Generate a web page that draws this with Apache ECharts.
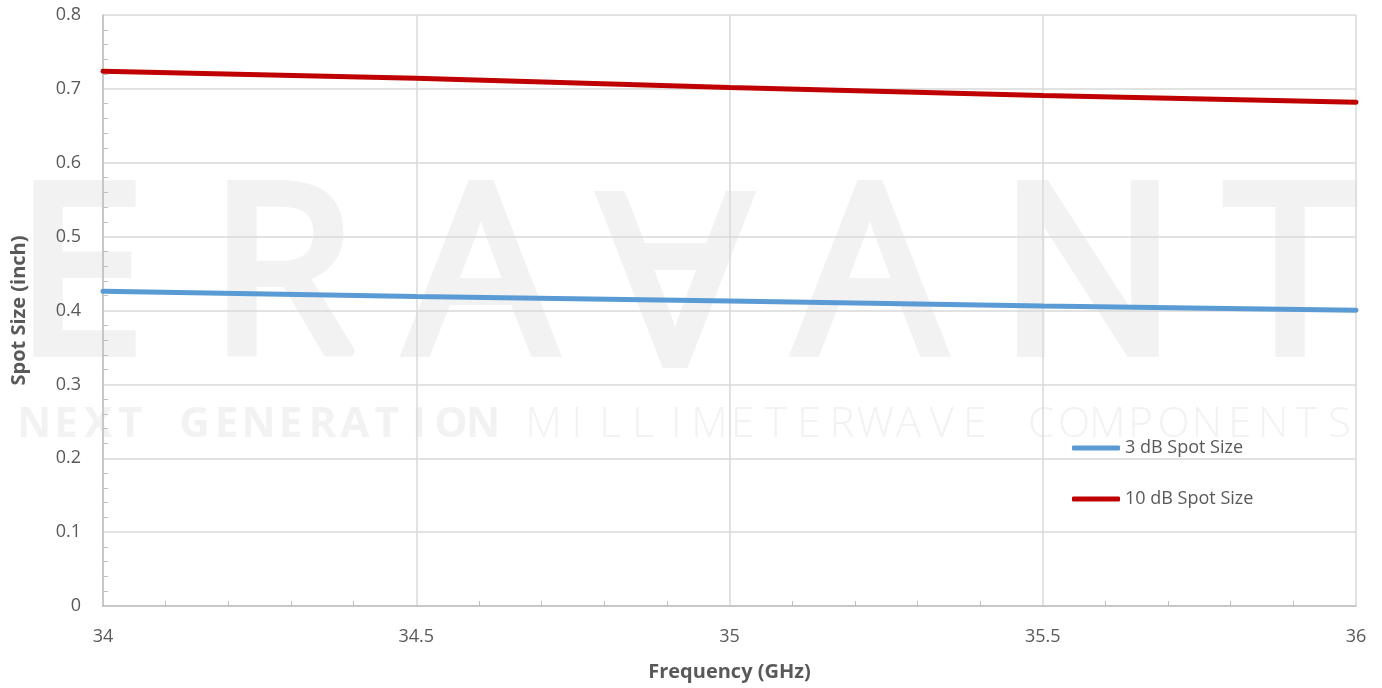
<!DOCTYPE html>
<html>
<head>
<meta charset="utf-8">
<script src="https://cdn.jsdelivr.net/npm/echarts@6/dist/echarts.min.js"></script>
<style>
  html, body { margin: 0; padding: 0; background: #fff; }
  #chart { width: 1382px; height: 688px; }
</style>
</head>
<body>
<div id="chart"></div>
<script>
// data
const freqs = [34, 34.5, 35, 35.5, 36];
const spot3dB = [0.426, 0.419, 0.413, 0.406, 0.4005];
const spot10dB = [0.724, 0.7145, 0.702, 0.691, 0.682];
const seriesNames = ["3 dB Spot Size", "10 dB Spot Size"];
const seriesColors = ["#5b9bd5", "#c00000"];

const textColor = "#595959";
const font = "Open Sans";
const wmColor = "#f2f2f2";

// watermark letters (decoration only)
function wmLetters() {
  const out = [];
  const big = [
    { ch: "E", cx: 80 },
    { ch: "R", cx: 282 },
    { ch: "A", cx: 481 },
    { ch: "A", cx: 675, flip: true },
    { ch: "A", cx: 870 },
    { ch: "N", cx: 1088 },
    { ch: "T", cx: 1290 },
  ];
  big.forEach((b) => {
    out.push({
      type: "text",
      z: -10,
      silent: true,
      x: b.cx,
      y: b.flip ? 262 : 286,
      rotation: b.flip ? Math.PI : 0,
      style: {
        text: b.ch,
        fill: wmColor,
        stroke: wmColor,
        lineWidth: 8,
        font: "normal 236px 'Noto Sans'",
        align: "center",
        verticalAlign: "middle",
      },
    });
  });
  const lines = [
    { txt: "NEXT GENERATION", x0: 18, x1: 499, w: "bold" },
    { txt: "MILLIMETERWAVE COMPONENTS", x0: 527, x1: 1356, w: "lighter" },
  ];
  lines.forEach((l) => {
    const step = (l.x1 - l.x0) / l.txt.length;
    l.txt.split("").forEach((c, i) => {
      if (c === " ") return;
      out.push({
        type: "text",
        z: -10,
        silent: true,
        x: l.x0 + step * (i + 0.5),
        y: 425,
        style: {
          text: c,
          fill: wmColor,
          font: l.w + " 42px 'Open Sans'",
          align: "center",
          verticalAlign: "middle",
        },
      });
    });
  });
  return out;
}

const chart = echarts.init(document.getElementById("chart"));

const option = {
  backgroundColor: "#fff",
  animation: false,
  textStyle: { fontFamily: font, color: textColor },
  graphic: wmLetters(),
  grid: { left: 103, right: 26, top: 15, bottom: 82 },
  legend: {
    orient: "vertical",
    left: 1072,
    top: 439,
    padding: 0,
    itemGap: 33,
    itemWidth: 48,
    itemHeight: 5,
    icon: "roundRect",
    data: seriesNames,
    textStyle: { fontFamily: font, fontSize: 18, color: textColor },
  },
  xAxis: {
    type: "value",
    min: 34,
    max: 36,
    interval: 0.5,
    name: "Frequency (GHz)",
    nameLocation: "middle",
    nameGap: 56,
    nameTextStyle: { fontFamily: font, fontSize: 20, fontWeight: "bold", color: textColor },
    axisLine: { show: true, lineStyle: { color: "#bfbfbf", width: 1.5 } },
    axisTick: { show: false, inside: true },
    minorTick: { show: true, splitNumber: 5, length: 5, lineStyle: { color: "#bfbfbf" } },
    axisLabel: { fontFamily: font, fontSize: 18, color: textColor, margin: 22 },
    splitLine: { show: true, lineStyle: { color: "#d9d9d9", width: 1.5 } },
  },
  yAxis: {
    type: "value",
    min: 0,
    max: 0.8,
    interval: 0.1,
    name: "Spot Size (inch)",
    nameLocation: "middle",
    nameGap: 74,
    nameTextStyle: { fontFamily: font, fontSize: 20, fontWeight: "bold", color: textColor },
    axisLine: { show: true, lineStyle: { color: "#bfbfbf", width: 1.5 } },
    axisTick: { show: false, inside: true },
    minorTick: { show: true, splitNumber: 5, length: 5, lineStyle: { color: "#bfbfbf" } },
    axisLabel: { fontFamily: font, fontSize: 18, color: textColor, margin: 22 },
    splitLine: { show: true, lineStyle: { color: "#d9d9d9", width: 1.5 } },
  },
  series: [
    {
      name: seriesNames[0],
      type: "line",
      data: freqs.map((f, i) => [f, spot3dB[i]]),
      showSymbol: false,
      color: seriesColors[0],
      lineStyle: { width: 5, color: seriesColors[0], cap: "round" },
    },
    {
      name: seriesNames[1],
      type: "line",
      data: freqs.map((f, i) => [f, spot10dB[i]]),
      showSymbol: false,
      color: seriesColors[1],
      lineStyle: { width: 5, color: seriesColors[1], cap: "round" },
    },
  ],
};

chart.setOption(option);
</script>
</body>
</html>
